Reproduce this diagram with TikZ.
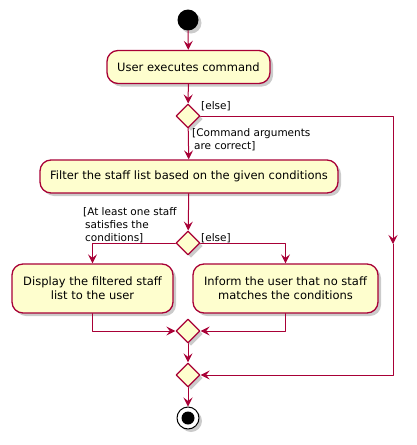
\documentclass[tikz,border=0pt]{standalone}
\usepackage{fontspec}
\setmainfont{DejaVu Sans}
\usetikzlibrary{arrows.meta,shapes.geometric,shadows,positioning}
\definecolor{umlred}{HTML}{A80036}
\definecolor{umlfill}{HTML}{FEFECE}
\tikzset{
  every picture/.style={line join=round, line cap=round, >=Stealth},
  shade/.style={drop shadow={shadow xshift=3pt, shadow yshift=-3pt, fill=black!45, opacity=0.45}},
  act/.style={draw=umlred, fill=umlfill, line width=1.3pt, rounded corners=11pt, align=center,
    inner sep=0pt, minimum height=33pt, font=\fontsize{11.5}{14}\selectfont, shade},
  cond/.style={diamond, draw=umlred, fill=umlfill, line width=1.3pt, inner sep=0pt, minimum size=24pt, shade},
  flow/.style={draw=umlred, line width=1pt, -{Stealth[length=9pt,width=9pt,inset=3.5pt]}},
  lbl/.style={align=left, inner sep=0pt, font=\fontsize{10.5}{13}\selectfont},
}
\begin{document}
\begin{tikzpicture}[x=1pt,y=-1pt]
\useasboundingbox (0,0) rectangle (417,445);
% start and first step
\node[circle, fill=black, minimum size=21pt, inner sep=0pt, shade] (start) at (188,20) {};
\node[act, minimum width=163pt] (exec) at (188.5,67) {User executes command};
\node[cond] (chk) at (188,116) {};
\node[act, minimum width=298pt] (filter) at (189,176.5) {Filter the staff list based on the given conditions};
% inner branch
\node[cond] (found) at (188,243) {};
\node[act, minimum width=161pt, minimum height=49pt] (show) at (92.5,288.5) {Display the filtered staff\\list to the user};
\node[act, minimum width=185pt, minimum height=49pt] (none) at (285.5,288.5) {Inform the user that no staff\\matches the conditions};
\node[cond] (join) at (188,331) {};
\node[cond] (merge) at (188,375) {};
% end
\node[circle, draw=black, fill=white, line width=1pt, minimum size=22pt, inner sep=0pt, shade] (stop) at (188,418) {};
\fill (stop.center) circle (6.5);
% guards
\node[lbl, anchor=south west] (elsea) at (201,111) {[else]};
\node[lbl, anchor=north west] (okargs) at (192,128) {[Command arguments\\\hspace{2pt}are correct]};
\node[lbl, anchor=south west] (atleast) at (83,243) {[At least one staff\\\hspace{2pt}satisfies the\\\hspace{2pt}conditions]};
\node[lbl, anchor=south west] (elseb) at (201,243) {[else]};
% else route on the right
\coordinate (rtop) at (393,116);
\coordinate (rmid) at (393,244);
\coordinate (rbot) at (393,375);
% connectors
\draw[flow] (start) -- (exec);
\draw[flow] (exec) -- (chk);
\draw[flow] (chk) -- (filter);
\draw[flow] (chk.east) -- (rtop) -- (rmid);
\draw[flow] (rmid) -- (rbot) -- (merge.east);
\draw[flow] (filter) -- (found);
\draw[flow] (found.west) -| (show.north);
\draw[flow] (found.east) -| (none.north);
\draw[flow] (show.south) |- (join.west);
\draw[flow] (none.south) |- (join.east);
\draw[flow] (join) -- (merge);
\draw[flow] (merge) -- (stop);
\end{tikzpicture}
\end{document}
